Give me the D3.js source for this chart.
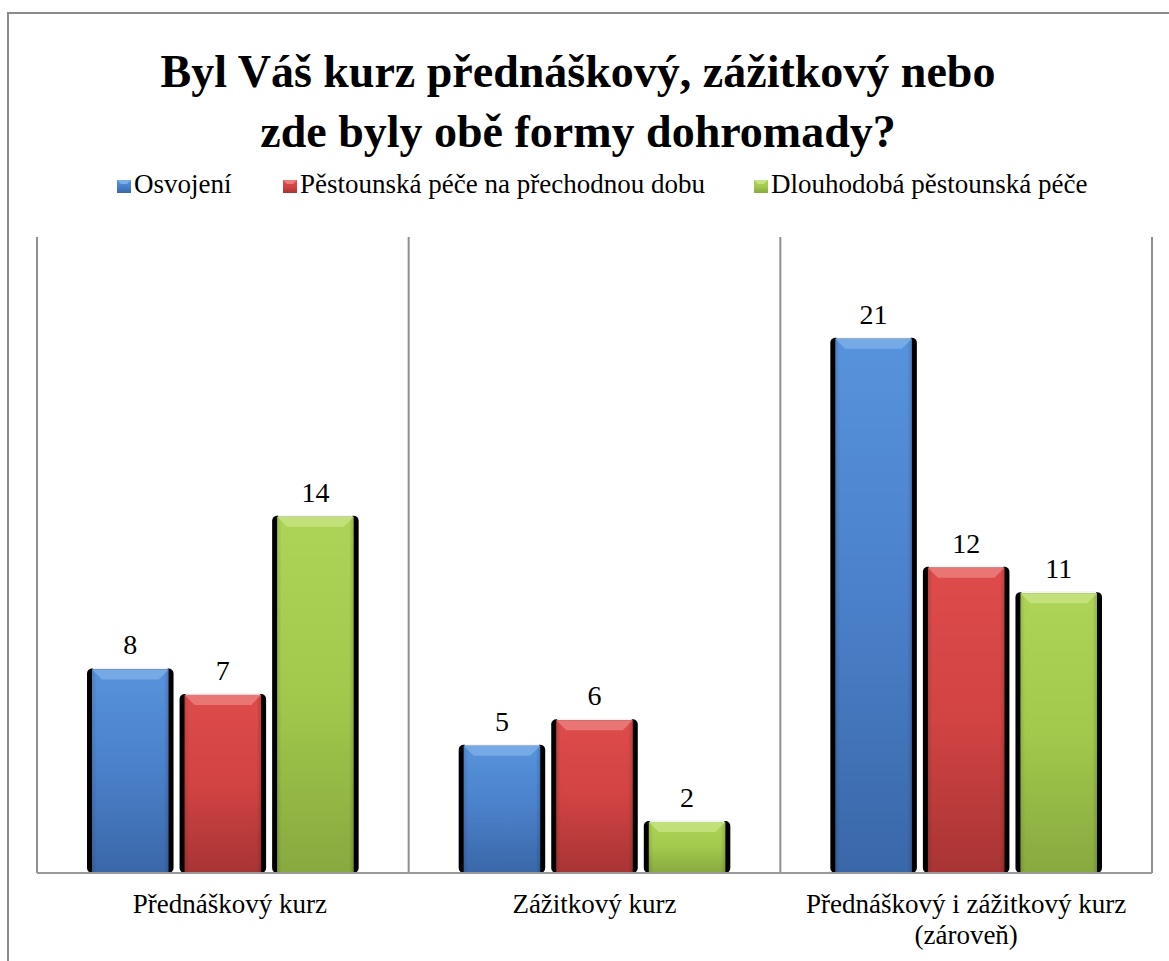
<!DOCTYPE html>
<html><head><meta charset="utf-8">
<script src="https://cdn.jsdelivr.net/npm/d3@7"></script>
<style>body{margin:0;background:#fff}svg{display:block}</style>
</head><body>
<svg id="c" width="1169" height="961"></svg>
<script>
const categories = ["Přednáškový kurz", "Zážitkový kurz", "Přednáškový i zážitkový kurz (zároveň)"];
const categoryLines = [["Přednáškový kurz"], ["Zážitkový kurz"], ["Přednáškový i zážitkový kurz", "(zároveň)"]];
const seriesNames = ["Osvojení", "Pěstounská péče na přechodnou dobu", "Dlouhodobá pěstounská péče"];
const osvojeni = [8, 5, 21];
const prechodna = [7, 6, 12];
const dlouhodoba = [14, 2, 11];
const seriesValues = [osvojeni, prechodna, dlouhodoba];
const titleLines = ["Byl Váš kurz přednáškový, zážitkový nebo", "zde byly obě formy dohromady?"];
const yMax = 25;

const colors = [
  {top:"#5793dc", mid:"#4a80c9", bot:"#3a67a8", bevel:"#7aaee8"},
  {top:"#de4b4b", mid:"#d24343", bot:"#a83434", bevel:"#eb7d7d"},
  {top:"#aed457", mid:"#a2c94c", bot:"#88a93f", bevel:"#c6e381"}
];

const svg = d3.select("#c");
const FF = "'Liberation Serif',serif";
const defs = svg.append("defs");
colors.forEach((c,i)=>{
  const g = defs.append("linearGradient").attr("id","g"+i).attr("x1",0).attr("y1",0).attr("x2",0).attr("y2",1);
  g.append("stop").attr("offset","0%").attr("stop-color",c.top);
  g.append("stop").attr("offset","50%").attr("stop-color",c.mid);
  g.append("stop").attr("offset","100%").attr("stop-color",c.bot);
  const h = defs.append("linearGradient").attr("id","h"+i).attr("x1",0).attr("y1",0).attr("x2",1).attr("y2",0);
  h.append("stop").attr("offset","0%").attr("stop-color","#000").attr("stop-opacity",0.12);
  h.append("stop").attr("offset","6%").attr("stop-color","#000").attr("stop-opacity",0);
  h.append("stop").attr("offset","94%").attr("stop-color","#000").attr("stop-opacity",0);
  h.append("stop").attr("offset","100%").attr("stop-color","#000").attr("stop-opacity",0.15);
});

// outer frame
svg.append("rect").attr("x",8).attr("y",13).attr("width",1300).attr("height",1100)
  .attr("fill","none").attr("stroke","#8c8c8c").attr("stroke-width",2);

// title
const title = svg.append("text").attr("text-anchor","middle").attr("font-family",FF)
  .attr("font-weight","bold").attr("font-size",46).attr("fill","#000");
titleLines.forEach((t,i)=>title.append("tspan").attr("x",578).attr("y",87+i*60).text(t));

// legend
const legendX = [117, 283, 754];
seriesNames.forEach((n,i)=>{
  const g = svg.append("g").attr("transform",`translate(${legendX[i]},180)`);
  g.append("rect").attr("width",14).attr("height",13).attr("fill",`url(#g${i})`);
  g.append("path").attr("d","M0,0H14L10,4H4Z").attr("fill",colors[i].bevel);
  g.append("text").attr("x",17).attr("y",13).attr("font-family",FF).attr("font-size",27).attr("fill","#000").text(n);
});

// scales
const pLeft = 37, pRight = 1152, pTop = 237, pBase = 873;
const x0 = d3.scaleBand().domain(categories).range([pLeft,pRight]).padding(0);
const bw = x0.bandwidth();
const x1 = d3.scaleBand().domain(seriesNames).range([50, bw-50]).paddingInner(0.065).paddingOuter(0);
const y = d3.scaleLinear().domain([0,yMax]).range([pBase,pTop]);

// gridlines (category separators)
const seps = [pLeft, ...categories.map(c=>x0(c)+bw)];
svg.selectAll("line.sep").data(seps).enter().append("line")
  .attr("x1",d=>d).attr("x2",d=>d).attr("y1",pTop).attr("y2",pBase)
  .attr("stroke","#8f8f8f").attr("stroke-width",2);

// bars
categories.forEach((cat,ci)=>{
  seriesNames.forEach((s,si)=>{
    const v = seriesValues[si][ci];
    const bx = x0(cat)+x1(s), w = x1.bandwidth();
    const yt = y(v), h = pBase - yt;
    const g = svg.append("g");
    g.append("rect").attr("x",bx).attr("y",yt-1).attr("width",w).attr("height",h+1)
      .attr("rx",5).attr("fill","#000");
    g.append("rect").attr("x",bx+6).attr("y",yt-2).attr("width",w-12).attr("height",2).attr("fill","#f4f4f4");
    const cx = bx+5, cw = w-10;
    g.append("rect").attr("x",cx).attr("y",yt).attr("width",cw).attr("height",h).attr("fill",`url(#g${si})`);
    g.append("rect").attr("x",cx).attr("y",yt).attr("width",cw).attr("height",h).attr("fill",`url(#h${si})`);
    const bv = Math.min(10, h/2);
    g.append("path").attr("d",`M${cx},${yt}H${cx+cw}L${cx+cw-bv},${yt+bv}H${cx+bv}Z`)
      .attr("fill",colors[si].bevel).attr("opacity",0.85);
    svg.append("text").attr("x",cx+cw/2).attr("y",yt-15).attr("text-anchor","middle")
      .attr("font-family",FF).attr("font-size",28).attr("fill","#000").text(v);
  });
});

// baseline
svg.append("line").attr("x1",pLeft).attr("x2",pRight).attr("y1",pBase).attr("y2",pBase)
  .attr("stroke","#9a9a9a").attr("stroke-width",2);

// category labels
categories.forEach((cat,ci)=>{
  const t = svg.append("text").attr("text-anchor","middle").attr("font-family",FF)
    .attr("font-size",27).attr("fill","#000");
  categoryLines[ci].forEach((ln,li)=>t.append("tspan").attr("x",x0(cat)+bw/2+(ci===0?7:0)).attr("y",913+li*31).text(ln));
});
</script>
</body></html>
